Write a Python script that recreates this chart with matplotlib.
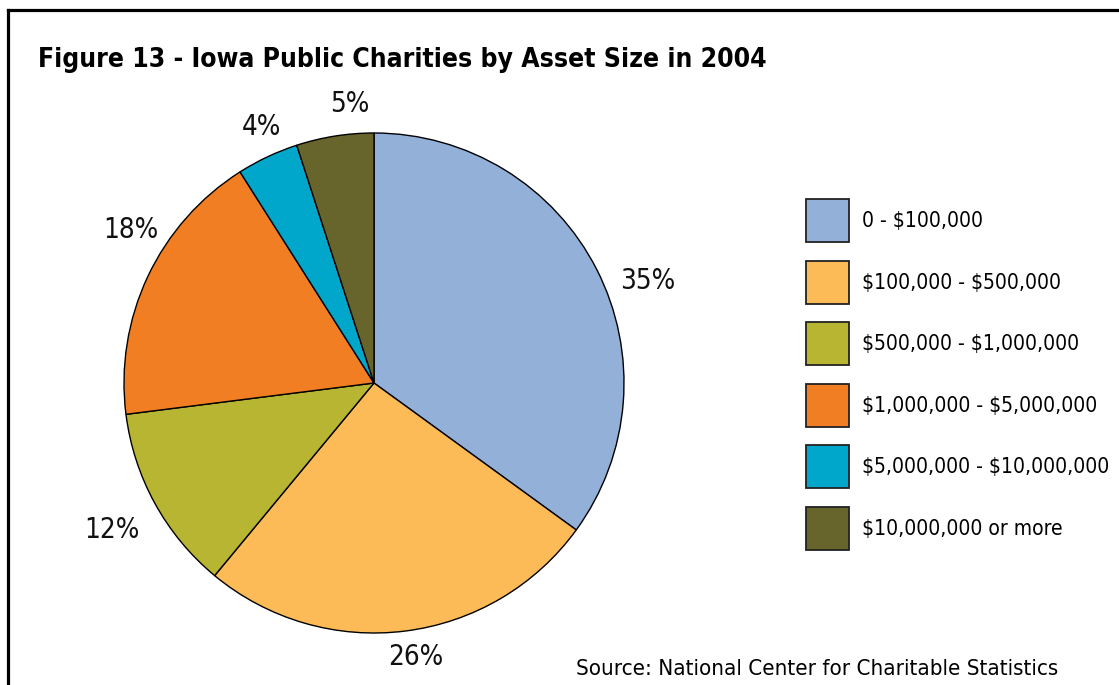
import matplotlib
matplotlib.use("Agg")
import matplotlib.pyplot as plt
import numpy as np
from matplotlib.patches import Rectangle
from matplotlib import font_manager as fm

# look for a narrow / condensed face, like the original's condensed sans
def pick(bold):
    best = None
    for f in fm.fontManager.ttflist:
        narrow = ("Narrow" in f.name or "Condensed" in f.name
                  or f.stretch in ("condensed", "semi-condensed")
                  or "Condensed" in f.fname or "Narrow" in f.fname)
        if not narrow or f.style != "normal":
            continue
        isbold = f.weight in ("bold", 700, "heavy") or (isinstance(f.weight, int) and f.weight >= 600)
        if isbold != bold:
            continue
        score = 0 if "Liberation" in f.name else (1 if "DejaVu" in f.name else 2)
        if best is None or score < best[0]:
            best = (score, f.fname)
    if best:
        return fm.FontProperties(fname=best[1])
    return fm.FontProperties(family="DejaVu Sans", weight="bold" if bold else "normal")

REG = pick(False)
BOLD = pick(True)

categories = ["0 - $100,000", "$100,000 - $500,000", "$500,000 - $1,000,000",
              "$1,000,000 - $5,000,000", "$5,000,000 - $10,000,000",
              "$10,000,000 or more"]
shares = [35, 26, 12, 18, 4, 5]
colors = ["#93B0D8", "#FDBB58", "#B7B532", "#F27E23", "#00A7CA", "#67642C"]
pct_labels = ["35%", "26%", "12%", "18%", "4%", "5%"]
label_dist = [1.17, 1.11, 1.2, 1.15, 1.12, 1.12]
label_shift = [-6.5, 1.5, 0.5, -7, -1.5, -4]  # degrees

W, H = 1119, 685
fig = plt.figure(figsize=(W / 100, H / 100), dpi=100)
fig.patch.set_facecolor("white")
renderer = fig.canvas.get_renderer()

def fit(txt, width):
    # scale font so the text spans the same width as in the original
    bb = txt.get_window_extent(renderer)
    txt.set_fontsize(txt.get_fontsize() * width / bb.width)

# pie axes: center (374,383) px, radius 250 px
cx, cy, r = 374, 383, 250
ax = fig.add_axes([(cx - r) / W, (H - cy - r) / H, 2 * r / W, 2 * r / H])
wedges, _ = ax.pie(shares, colors=colors, startangle=90, counterclock=False,
                   radius=1, wedgeprops=dict(edgecolor="black", linewidth=1.0))
ax.set_xlim(-1, 1); ax.set_ylim(-1, 1); ax.set_aspect("equal")
ax.axis("off")

for w, lab, d, sh in zip(wedges, pct_labels, label_dist, label_shift):
    ang = np.deg2rad((w.theta1 + w.theta2) / 2 + sh)
    t = ax.text(d * np.cos(ang), d * np.sin(ang), lab, ha="center", va="center",
                fontproperties=REG, fontsize=20, color="#111111", clip_on=False)
    if lab == "35%":
        fit(t, 55)
        fs = t.get_fontsize()
for t in ax.texts:
    t.set_fontsize(fs)

# frame (runs off the right and bottom edges)
ov = fig.add_axes([0, 0, 1, 1], zorder=-1)
ov.set_xlim(0, W); ov.set_ylim(H, 0); ov.axis("off")
ov.plot([8, 8], [10, H + 5], color="black", lw=2.3, solid_capstyle="projecting")
ov.plot([8, W + 5], [10, 10], color="black", lw=2.3, solid_capstyle="projecting")

ov2 = fig.add_axes([0, 0, 1, 1], zorder=5)
ov2.set_xlim(0, W); ov2.set_ylim(H, 0); ov2.axis("off")
ov2.patch.set_alpha(0)
title = ov2.text(38, 67, "Figure 13 - Iowa Public Charities by Asset Size in 2004",
                 fontproperties=BOLD, fontsize=21.5, ha="left", va="baseline")
fit(title, 730)

leg_texts = []
for i, (cat, col) in enumerate(zip(categories, colors)):
    y0 = 199 + i * 61.5
    ov2.add_patch(Rectangle((806, y0), 43, 43, facecolor=col,
                            edgecolor="#222222", lw=1.3))
    leg_texts.append(ov2.text(862, y0 + 22, cat, fontproperties=REG, fontsize=17.5,
                              ha="left", va="center", parse_math=False))
fit(leg_texts[4], 247)
for t in leg_texts:
    t.set_fontsize(leg_texts[4].get_fontsize())

src = ov2.text(576, 675, "Source: National Center for Charitable Statistics",
               fontproperties=REG, fontsize=17.5, ha="left", va="baseline")
fit(src, 480)

fig.savefig("out.png", dpi=100, facecolor="white")
